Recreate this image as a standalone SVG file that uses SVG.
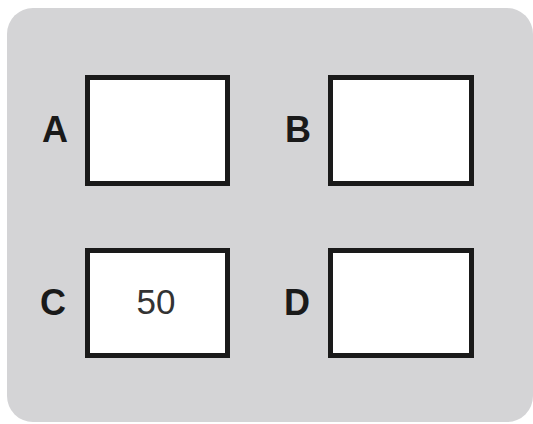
<svg xmlns="http://www.w3.org/2000/svg" width="533" height="424" viewBox="0 0 533 424">
  <style>
    .box { fill: #ffffff; stroke: #1a1a1a; stroke-width: 5; }
    .lbl { font-family: "Liberation Sans", Arial, sans-serif; font-weight: bold; font-size: 36px; fill: #1a1a1a; text-anchor: middle; }
    .val { font-family: "Liberation Sans", Arial, sans-serif; font-size: 35px; fill: #333333; text-anchor: middle; }
  </style>
  <rect x="0" y="0" width="533" height="424" fill="#ffffff"/>
  <rect id="panel" x="7" y="8" width="526" height="414" rx="26" ry="26" fill="#d4d4d6"/>
  <g id="connectors"></g>
  <g id="node-A">
    <text class="lbl" x="55" y="142">A</text>
    <rect class="box" x="87.5" y="77.5" width="140" height="106"/>
  </g>
  <g id="node-B">
    <text class="lbl" x="298" y="142">B</text>
    <rect class="box" x="330.5" y="77.5" width="141" height="106"/>
  </g>
  <g id="node-C">
    <text class="lbl" x="53" y="315">C</text>
    <rect class="box" x="87.5" y="250.5" width="140" height="105"/>
    <text class="val" x="156" y="314">50</text>
  </g>
  <g id="node-D">
    <text class="lbl" x="297" y="315">D</text>
    <rect class="box" x="330.5" y="250.5" width="141" height="105"/>
  </g>
</svg>
